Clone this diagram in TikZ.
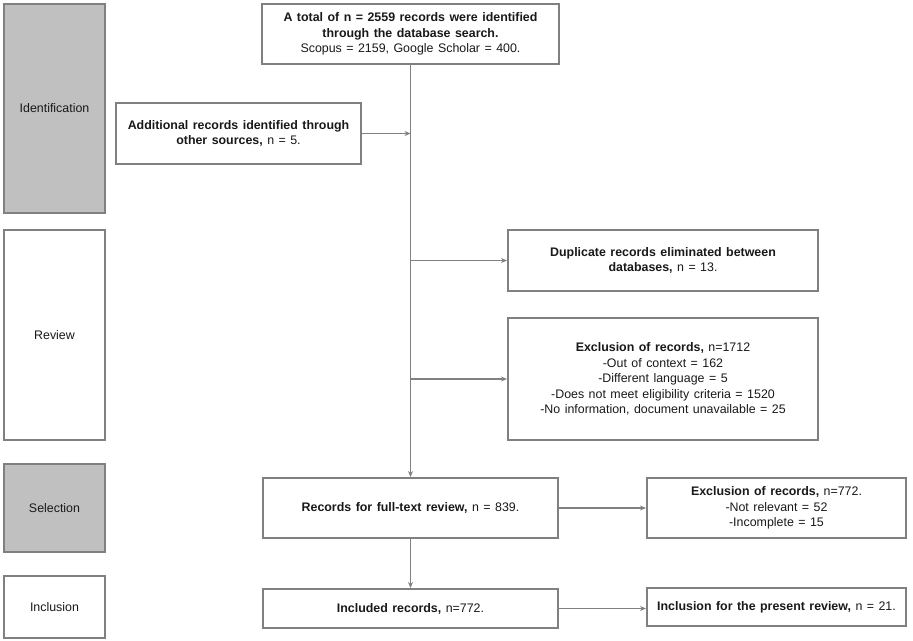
\documentclass[tikz,border=0pt]{standalone}
\usepackage{fontspec}
\setmainfont{Liberation Sans}[WordSpace=1.3]
\usetikzlibrary{arrows.meta}
\definecolor{bordergray}{HTML}{808080}
\definecolor{fillgray}{HTML}{C0C0C0}
\definecolor{linegray}{HTML}{808080}
\begin{document}
\begin{tikzpicture}[x=1pt,y=-1pt,
  box/.style={draw=bordergray, line width=2pt, fill=white, inner sep=0pt, align=center,
    font=\fontsize{12.4}{15.5}\selectfont, text=black!90},
  stagebox/.style={box, minimum width=101pt},
  graybox/.style={stagebox, fill=fillgray},
  arr/.style={draw=linegray, line width=1.5pt, -{Stealth[length=6pt,width=5pt]}}
]
\useasboundingbox (0,0) rectangle (913,640);

% stage boxes
\node[graybox, minimum height=209pt] (ident) at (54.5,108.5) {Identification};
\node[stagebox, minimum height=210pt] (review) at (54.5,335) {Review};
\node[graybox, minimum height=88pt] (selection) at (54.5,508) {Selection};
\node[stagebox, minimum height=62pt] (inclusion) at (54.5,607) {Inclusion};

% flow boxes
\node[box, minimum width=297pt, minimum height=60pt] (top) at (410.5,34)
  {\textbf{A total of n = 2559 records were identified}\\\textbf{through the database search.}\\Scopus = 2159, Google Scholar = 400.};
\node[box, minimum width=245pt, minimum height=61pt] (add) at (238.5,133.5)
  {\textbf{Additional records identified through}\\\textbf{other sources,} n = 5.};
\node[box, minimum width=310pt, minimum height=61pt] (dup) at (663,260.5)
  {\textbf{Duplicate records eliminated between}\\\textbf{databases,} n = 13.};
\node[box, minimum width=310pt, minimum height=122pt] (excla) at (663,379)
  {\textbf{Exclusion of records,} n=1712\\-Out of context = 162\\-Different language = 5\\-Does not meet eligibility criteria = 1520\\-No information, document unavailable = 25};
\node[box, minimum width=295pt, minimum height=60pt] (recs) at (410.5,508)
  {\textbf{Records for full-text review,} n = 839.};
\node[box, minimum width=259pt, minimum height=60pt] (exclb) at (776.5,508)
  {\textbf{Exclusion of records,} n=772.\\-Not relevant = 52\\-Incomplete = 15};
\node[box, minimum width=295pt, minimum height=39pt] (incl) at (410.5,608.5)
  {\textbf{Included records,} n=772.};
\node[box, minimum width=259pt, minimum height=38pt] (pres) at (776.5,607)
  {\textbf{Inclusion for the present review,} n = 21.};

% connectors
\draw[arr] (top.south) -- (recs.north);
\draw[arr] (add.east) -- (add.east -| top.south);
\draw[arr] (top.south |- dup.west) -- (dup.west);
\draw[arr] (top.south |- excla.west) -- (excla.west);
\draw[arr] (recs.east) -- (exclb.west);
\draw[arr] (recs.south) -- (incl.north);
\draw[arr] (incl.east) -- (incl.east -| exclb.west);
\end{tikzpicture}
\end{document}
